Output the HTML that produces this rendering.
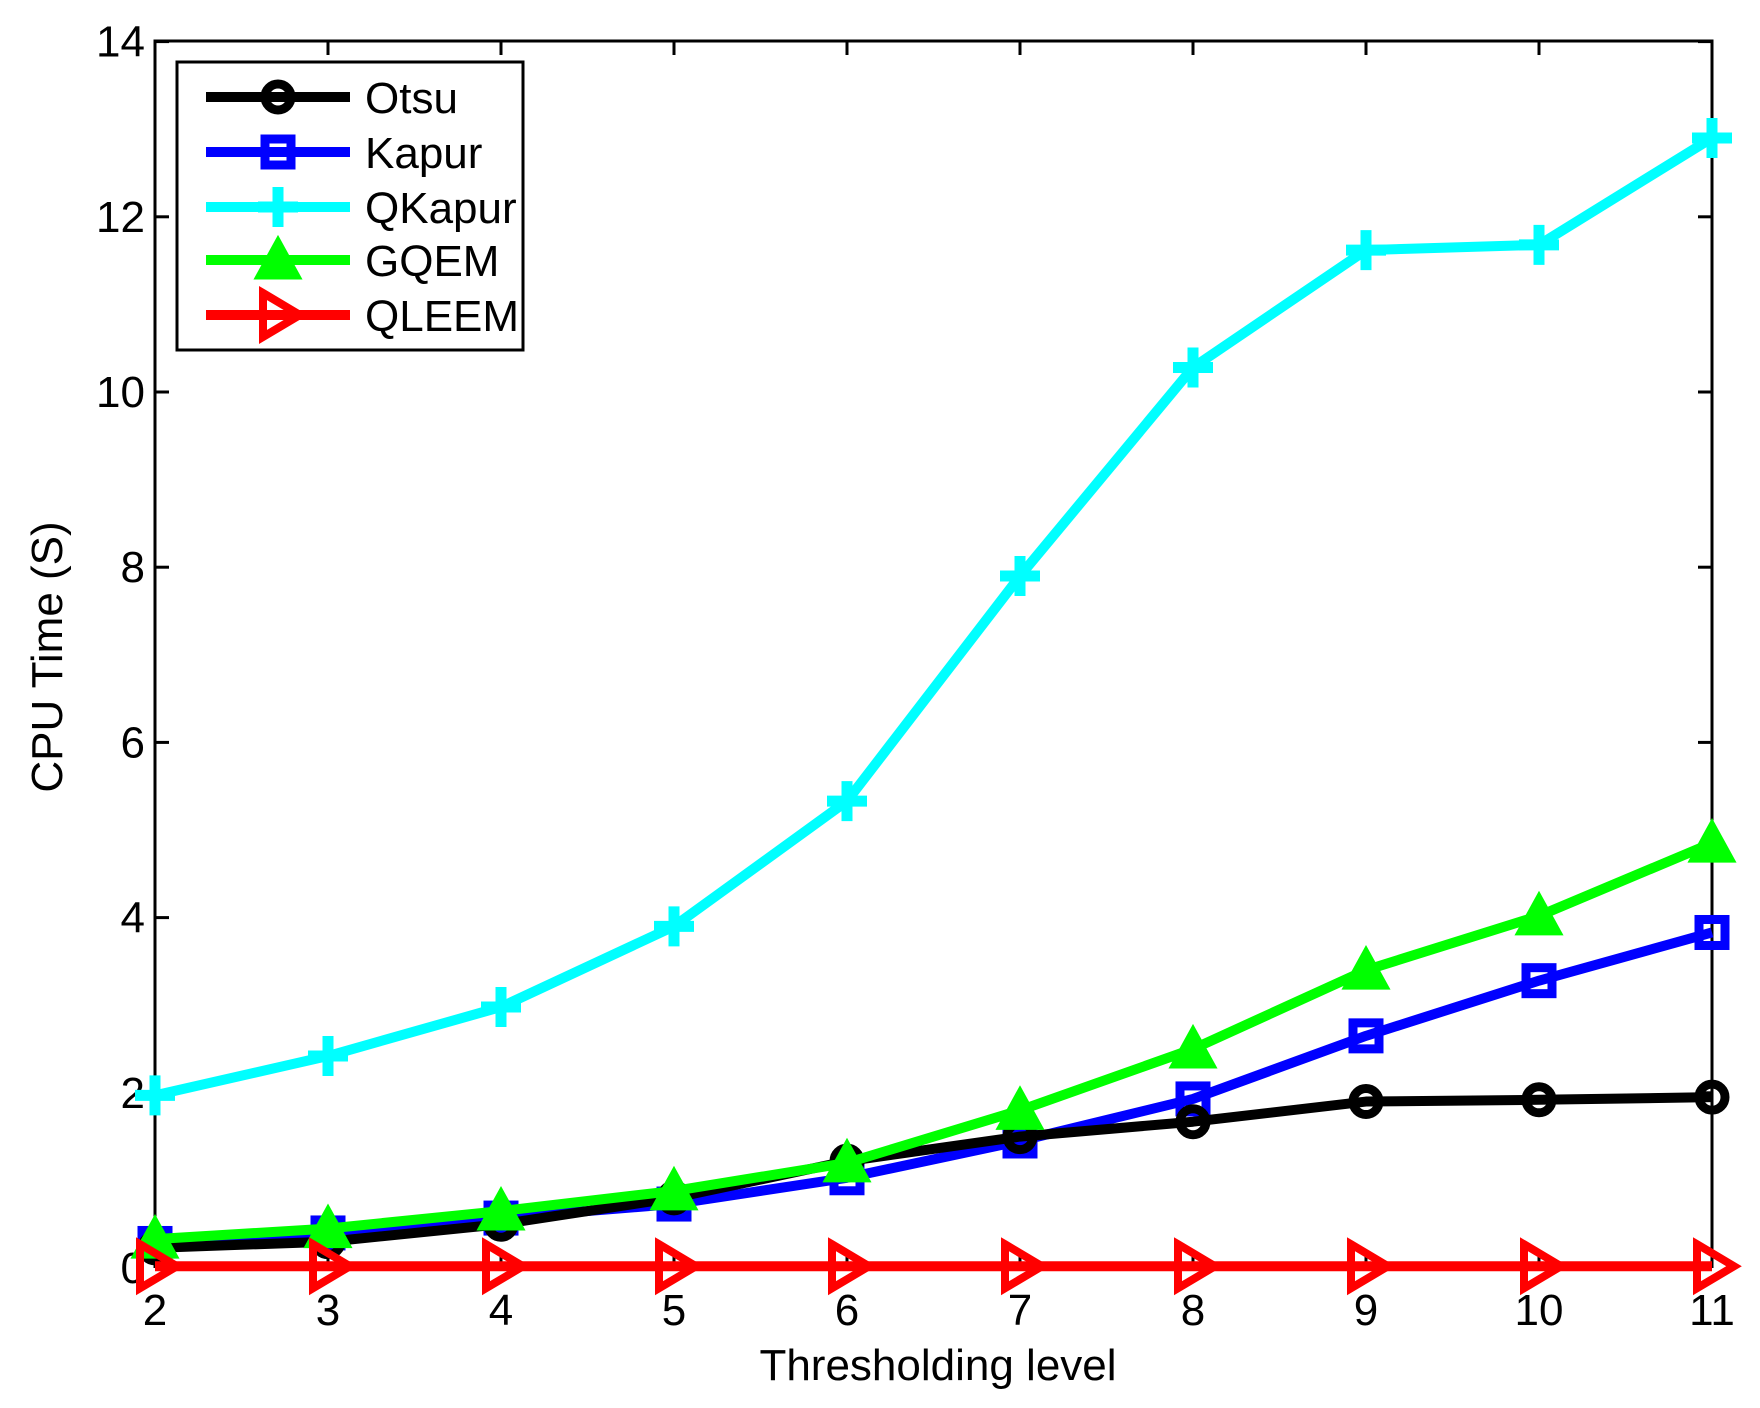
<!DOCTYPE html>
<html><head><style>body{margin:0;background:#fff}svg{display:block}</style></head><body>
<svg width="1760" height="1408" viewBox="0 0 1760 1408" xmlns="http://www.w3.org/2000/svg" font-family="Liberation Sans, sans-serif">
<defs>
<g id="mo"><circle r="13" fill="none" stroke="#000" stroke-width="9"/></g>
<g id="ms"><rect x="-13" y="-13" width="26" height="26" fill="none" stroke="#00f" stroke-width="9"/></g>
<g id="mp"><path d="M-20 0H20M0 -20V20" stroke="#0ff" stroke-width="11"/></g>
<g id="mt"><path d="M0 -22L22 18H-22Z" fill="#0f0" stroke="#0f0" stroke-width="3"/></g>
<g id="mr"><path d="M-15 -22L22 0L-15 22Z" fill="none" stroke="#f00" stroke-width="8"/></g>
</defs>
<rect x="155" y="41" width="1557" height="1225" fill="none" stroke="#000" stroke-width="3"/>
<g stroke="#000" stroke-width="3" id="ticks"></g>
<g font-size="44" fill="#000" id="lbl"></g>
<g id="plot"></g>
<text x="938" y="1380" font-size="44" text-anchor="middle">Thresholding level</text>
<text transform="translate(62,657) rotate(-90)" font-size="44" text-anchor="middle">CPU Time (S)</text>
<rect x="177" y="62" width="346" height="288" fill="#fff" stroke="#000" stroke-width="3"/>
<g stroke-width="10">
<line x1="206" y1="97" x2="350" y2="97" stroke="#000"/><use href="#mo" x="278" y="97"/>
<line x1="206" y1="152" x2="350" y2="152" stroke="#00f"/><use href="#ms" x="278" y="152"/>
<line x1="206" y1="207" x2="350" y2="207" stroke="#0ff"/><use href="#mp" x="278" y="207"/>
<line x1="206" y1="260" x2="350" y2="260" stroke="#0f0"/><use href="#mt" x="278" y="260"/>
<line x1="206" y1="315" x2="350" y2="315" stroke="#f00"/><use href="#mr" x="278" y="315"/>
</g>
<g font-size="44">
<text x="365" y="113">Otsu</text><text x="365" y="168">Kapur</text><text x="365" y="223">QKapur</text><text x="365" y="276">GQEM</text><text x="365" y="331">QLEEM</text>
</g>
<script>
var L=155,R=1712,T=41,B=1268,X=i=>L+(i-2)*173,Y=v=>B-v*87.6,ns="http://www.w3.org/2000/svg";
function el(p,t,a,txt){var e=document.createElementNS(ns,t);for(var k in a)e.setAttribute(k,a[k]);if(txt!=null)e.textContent=txt;document.getElementById(p).appendChild(e);return e;}
for(var i=2;i<=11;i++){var x=X(i);el('ticks','line',{x1:x,y1:B,x2:x,y2:B-14});el('ticks','line',{x1:x,y1:T,x2:x,y2:T+14});el('lbl','text',{x:x,y:1325,'text-anchor':'middle'},i);}
for(var v=0;v<=14;v+=2){var y=Y(v);el('ticks','line',{x1:L,y1:y,x2:L+14,y2:y});el('ticks','line',{x1:R,y1:y,x2:R-14,y2:y});el('lbl','text',{x:145,y:y+15,'text-anchor':'end'},v);}
var S=[["#000","mo",[0.23,0.3,0.5,0.8,1.22,1.5,1.67,1.9,1.92,1.95]],
["#00f","ms",[0.28,0.4,0.57,0.73,1.03,1.45,1.93,2.65,3.28,3.83]],
["#0ff","mp",[1.97,2.42,2.98,3.9,5.33,7.9,10.28,11.62,11.68,12.9]],
["#0f0","mt",[0.33,0.45,0.65,0.88,1.2,1.8,2.5,3.4,4.02,4.85]],
["#f00","mr",[0.02,0.02,0.02,0.02,0.02,0.02,0.02,0.02,0.02,0.02]]];
var order=[2,1,0,3,4];
order.forEach(function(k){var s=S[k];var pts=s[2].map((v,j)=>X(j+2)+","+Y(v)).join(" ");
el('plot','polyline',{points:pts,fill:"none",stroke:s[0],'stroke-width':10,'stroke-linejoin':'round'});
s[2].forEach((v,j)=>el('plot','use',{href:'#'+s[1],x:X(j+2),y:Y(v)}));});
</script>
</svg>
</body></html>
